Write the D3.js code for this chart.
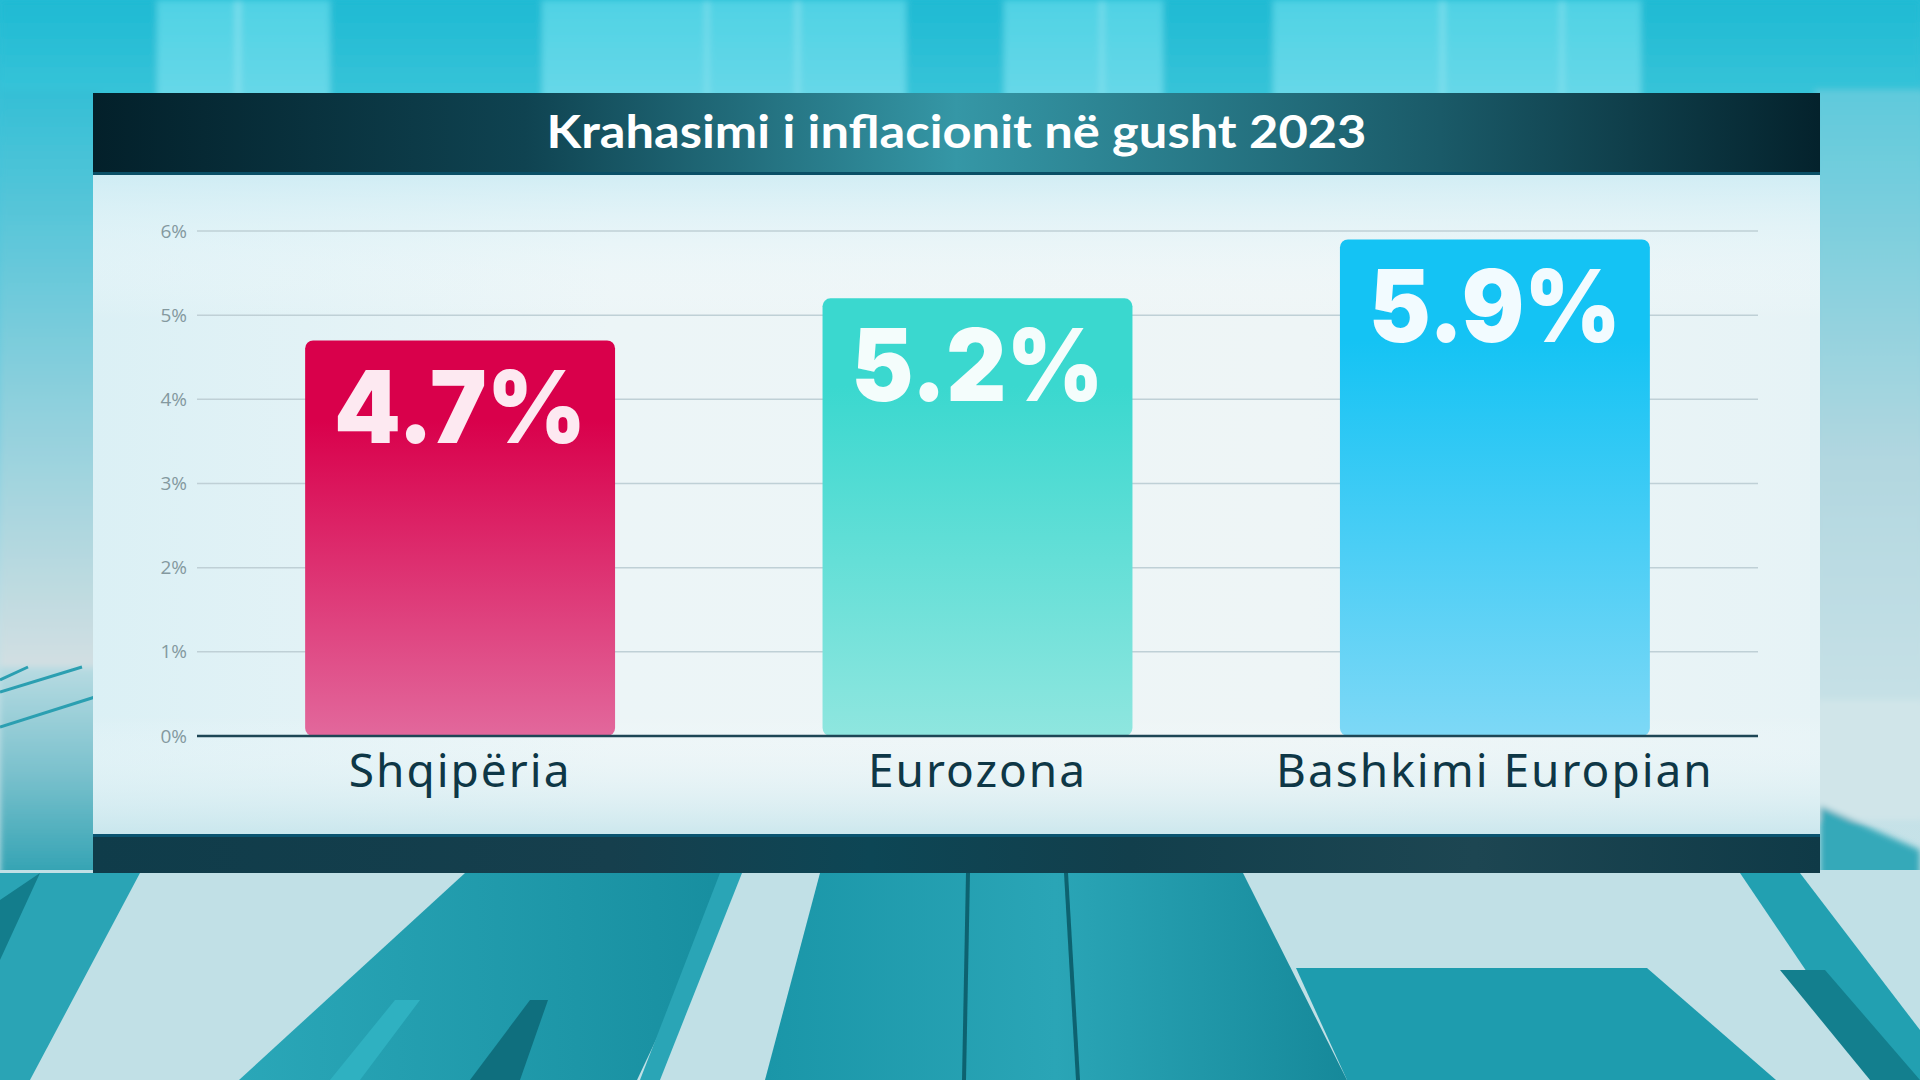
<!DOCTYPE html>
<html>
<head>
<meta charset="utf-8">
<script src="https://cdn.jsdelivr.net/npm/d3@7"></script>
<style>
  html, body { margin: 0; padding: 0; background: #2aa6b6; }
  svg { display: block; }
</style>
</head>
<body>
<svg id="chart" width="1920" height="1080"></svg>
<script>
// ---- data ----
const title = "Krahasimi i inflacionit në gusht 2023";
const categories = ["Shqipëria", "Eurozona", "Bashkimi Europian"];
const values = [4.7, 5.2, 5.9];
const valueLabels = ["4.7%", "5.2%", "5.9%"];
const yTicks = [0, 1, 2, 3, 4, 5, 6];
const yTickLabels = ["0%", "1%", "2%", "3%", "4%", "5%", "6%"];
const barTop = ["#d9004b", "#3ad8cf", "#14c3f4"];
const barBottom = ["#e2689c", "#8fe6df", "#7dd8f6"];
const labelFill = ["#fde9f1", "#f4fdfc", "#f2fbff"];

const svg = d3.select("#chart");
const defs = svg.append("defs");

function lin(id, stops, x2 = 0, y2 = 1) {
  const g = defs.append("linearGradient").attr("id", id).attr("x1", 0).attr("y1", 0).attr("x2", x2).attr("y2", y2);
  stops.forEach(s => g.append("stop").attr("offset", s[0]).attr("stop-color", s[1]).attr("stop-opacity", s[2] === undefined ? 1 : s[2]));
  return g;
}
defs.append("filter").attr("id", "blur").attr("x", -0.1).attr("y", -0.1).attr("width", 1.2).attr("height", 1.2)
  .append("feGaussianBlur").attr("stdDeviation", 3);

// ---- background ----
lin("bg", [[0, "#25bdd5"], [0.4, "#7acde0"], [0.58, "#c2dfe5"], [0.8, "#c6e2e8"], [1, "#b3d9e1"]]);
svg.append("rect").attr("width", 1920).attr("height", 1080).attr("fill", "url(#bg)");

const bgLayer = svg.append("g").attr("filter", "url(#blur)");
// top strip
lin("topbase", [[0, "#1fbad3"], [1, "#38c4d9"]]);
bgLayer.append("rect").attr("x", 0).attr("y", 0).attr("width", 1920).attr("height", 100).attr("fill", "url(#topbase)");
lin("topstripe", [[0, "#4fd2e4"], [1, "#68d8e8"]]);
[[157, 173], [542, 364], [1004, 159], [1273, 368]].forEach(s =>
  bgLayer.append("rect").attr("x", s[0]).attr("y", 0).attr("width", s[1]).attr("height", 100).attr("fill", "url(#topstripe)"));
[[235, 6], [705, 4], [795, 5], [1100, 4], [1440, 5], [1560, 4]].forEach(s =>
  bgLayer.append("rect").attr("x", s[0]).attr("y", 0).attr("width", s[1]).attr("height", 100).attr("fill", "#8be3ef").attr("opacity", 0.7));
// left side
lin("leftside", [[0, "#34bfd6"], [0.55, "#8fd0dd"], [1, "#d2dfe2"]]);
bgLayer.append("rect").attr("x", 0).attr("y", 90).attr("width", 100).attr("height", 577).attr("fill", "url(#leftside)");
lin("leftdesk", [[0, "#b7dbe2"], [0.5, "#78c0cc"], [1, "#2a9fb0"]]);
bgLayer.append("rect").attr("x", 0).attr("y", 667).attr("width", 100).attr("height", 220).attr("fill", "url(#leftdesk)");
[[0, 680, 28, 667], [0, 692, 82, 667], [0, 727, 95, 697]].forEach(l =>
  svg.append("line").attr("x1", l[0]).attr("y1", l[1]).attr("x2", l[2]).attr("y2", l[3]).attr("stroke", "#2b9fb1").attr("stroke-width", 3));
// right side
lin("rightside", [[0, "#5fcadc"], [0.6, "#b2d7e0"], [1, "#c7e1e6"]]);
bgLayer.append("rect").attr("x", 1815).attr("y", 90).attr("width", 110).attr("height", 620).attr("fill", "url(#rightside)");
bgLayer.append("rect").attr("x", 1815).attr("y", 700).attr("width", 110).attr("height", 120).attr("fill", "#d0e5e9");
bgLayer.append("polygon").attr("points", "1820,806 1920,850 1920,1080 1820,1080").attr("fill", "#35a9b9");

// bottom table
const bottom = svg.append("g");
bottom.append("rect").attr("x", 0).attr("y", 870).attr("width", 1920).attr("height", 210).attr("fill", "#c1e0e6");
lin("slat", [[0, "#2aa7b8"], [1, "#178e9f"]], 1, 0);
lin("slat2", [[0, "#1a96a8"], [0.5, "#2aa5b6"], [1, "#16899a"]], 1, 0);
bottom.append("polygon").attr("points", "0,873 140,873 30,1080 0,1080").attr("fill", "#2aa4b5");
bottom.append("polygon").attr("points", "0,900 40,873 0,960").attr("fill", "#137d8c");
bottom.append("polygon").attr("points", "465,873 735,873 637,1080 239,1080").attr("fill", "url(#slat)");
bottom.append("polygon").attr("points", "395,1000 420,1000 360,1080 330,1080").attr("fill", "#2fb1c1");
bottom.append("polygon").attr("points", "530,1000 548,1000 520,1080 470,1080").attr("fill", "#0f6f7e");
bottom.append("polygon").attr("points", "720,873 742,873 660,1080 640,1080").attr("fill", "#2aa5b6");
bottom.append("polygon").attr("points", "820,873 1243,873 1347,1080 765,1080").attr("fill", "url(#slat2)");
[[966, 962], [1064, 1076]].forEach(p =>
  bottom.append("polygon").attr("points", `${p[0]},873 ${p[0] + 4},873 ${p[1] + 4},1080 ${p[1]},1080`).attr("fill", "#0d6270"));
bottom.append("polygon").attr("points", "1296,968 1647,968 1776,1080 1347,1080").attr("fill", "#1e9cae");
bottom.append("polygon").attr("points", "1740,873 1800,873 1920,1030 1920,1080 1880,1080").attr("fill", "#22a0b1");
bottom.append("polygon").attr("points", "1780,970 1825,970 1920,1080 1870,1080").attr("fill", "#137f8e");

// ---- panel ----
const panelX = 93, panelW = 1727;
lin("panel", [[0, "#dbf0f5"], [0.3, "#ecf5f7"], [0.7, "#eef5f6"], [1, "#e6f3f6"]], 1, 0);
svg.append("rect").attr("x", panelX).attr("y", 175).attr("width", panelW).attr("height", 659).attr("fill", "url(#panel)");
lin("panel2", [[0, "#cdecf4", 0.85], [0.22, "#ffffff", 0], [0.82, "#ffffff", 0], [1, "#c4e4eb", 0.8]]);
svg.append("rect").attr("x", panelX).attr("y", 175).attr("width", panelW).attr("height", 659).attr("fill", "url(#panel2)");

// bottom dark strip
lin("strip", [[0, "#0f3c4a"], [0.3, "#163f4d"], [0.45, "#0d4655"], [0.6, "#123f4c"], [0.8, "#1d4652"], [1, "#0f3a47"]], 1, 0);
svg.append("rect").attr("x", panelX).attr("y", 834).attr("width", panelW).attr("height", 39).attr("fill", "url(#strip)");
svg.append("rect").attr("x", panelX).attr("y", 834).attr("width", panelW).attr("height", 3).attr("fill", "#0a5470");

// title bar
lin("tbar", [[0, "#03202a"], [0.25, "#0f4351"], [0.5, "#3597a6"], [0.78, "#1a5a68"], [1, "#04222c"]], 1, 0);
svg.append("rect").attr("x", panelX).attr("y", 93).attr("width", panelW).attr("height", 82).attr("fill", "url(#tbar)");
svg.append("rect").attr("x", panelX).attr("y", 172).attr("width", panelW).attr("height", 3).attr("fill", "#0a4f66");

svg.append("text")
  .attr("x", panelX + panelW / 2).attr("y", 148)
  .attr("text-anchor", "middle")
  .attr("font-family", "Lato, 'Open Sans', sans-serif")
  .attr("font-weight", 700).attr("font-size", 45)
  .attr("fill", "#ffffff")
  .attr("textLength", 820).attr("lengthAdjust", "spacingAndGlyphs")
  .text(title);

// ---- chart ----
const plotLeft = 197, plotRight = 1758;
const y = d3.scaleLinear().domain([0, 6]).range([736, 231]);
const x = d3.scaleBand().domain(categories).range([plotLeft, plotRight]).paddingInner(0.401).paddingOuter(0.209);

// gridlines
svg.append("g").selectAll("line").data(yTicks.filter(d => d > 0)).join("line")
  .attr("x1", plotLeft).attr("x2", plotRight)
  .attr("y1", d => y(d)).attr("y2", d => y(d))
  .attr("stroke", "#bfd0d6").attr("stroke-width", 1.5);

// y axis labels
const yAxis = d3.axisLeft(y).tickValues(yTicks).tickFormat((d, i) => yTickLabels[i]).tickSize(0).tickPadding(10);
const yg = svg.append("g").attr("transform", `translate(${plotLeft},0)`).call(yAxis);
yg.select(".domain").remove();
yg.selectAll("text").attr("font-family", "'Open Sans', sans-serif").attr("font-size", 19).attr("fill", "#84999f");

// bars
values.forEach((v, i) => lin("bar" + i, [[0, barTop[i]], [0.2, barTop[i]], [1, barBottom[i]]]));
svg.append("g").selectAll("rect").data(values).join("rect")
  .attr("x", (d, i) => x(categories[i]))
  .attr("y", d => y(d))
  .attr("width", x.bandwidth())
  .attr("height", d => y(0) - y(d))
  .attr("rx", 8).attr("ry", 8)
  .attr("fill", (d, i) => `url(#bar${i})`);

// x axis
const xAxis = d3.axisBottom(x).tickSize(0);
const xg = svg.append("g").attr("transform", `translate(0,${y(0)})`).call(xAxis);
xg.select(".domain").attr("stroke", "#1d4655").attr("stroke-width", 2.5).attr("d", `M${plotLeft},0H${plotRight}`);
xg.selectAll("text")
  .attr("font-family", "'Noto Sans', 'Open Sans', sans-serif")
  .attr("font-size", 46).attr("font-weight", 400)
  .attr("letter-spacing", "2px")
  .attr("fill", "#0e3746")
  .attr("dy", 0).attr("y", 51);

// value labels
svg.append("g").selectAll("text").data(values).join("text")
  .attr("x", (d, i) => x(categories[i]) + x.bandwidth() / 2)
  .attr("y", d => y(d) + 103)
  .attr("text-anchor", "middle")
  .attr("font-family", "Inter, Lato, sans-serif")
  .attr("font-weight", 900).attr("font-size", 100)
  .attr("fill", (d, i) => labelFill[i])
  .attr("textLength", 252).attr("lengthAdjust", "spacingAndGlyphs")
  .text((d, i) => valueLabels[i]);
</script>
</body>
</html>
